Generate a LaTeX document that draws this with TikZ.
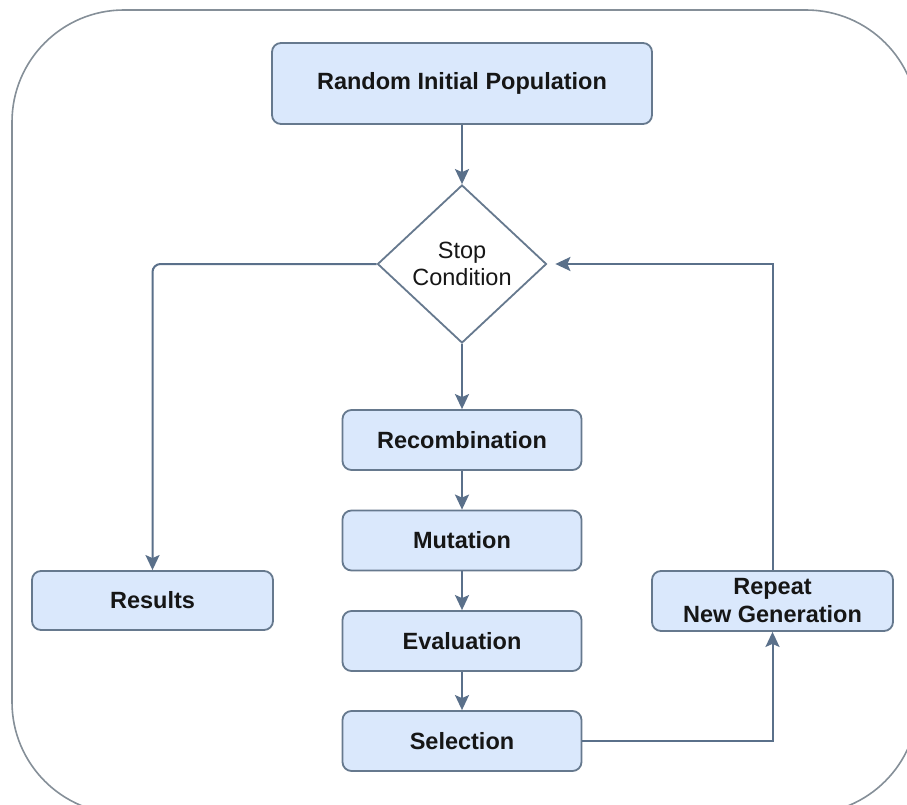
\documentclass[tikz,border=0pt]{standalone}
\usepackage{fontspec}
\setmainfont{Liberation Sans}
\usetikzlibrary{shapes.geometric,arrows.meta}
\definecolor{boxfill}{HTML}{DAE8FC}
\definecolor{boxline}{HTML}{66798E}
\definecolor{arrowcol}{HTML}{5A708A}
\definecolor{outerline}{HTML}{858F98}
\definecolor{txt}{HTML}{161616}
\begin{document}
\begin{tikzpicture}[x=1pt,y=-1pt,
  stepbox/.style={draw=boxline,fill=boxfill,line width=1.8pt,rounded corners=9pt,
    minimum width=240pt,minimum height=60pt,inner sep=0pt,align=center,
    font=\fontsize{23.5pt}{28pt}\selectfont\bfseries,text=txt},
  decision/.style={draw=boxline,fill=white,line width=1.8pt,shape=diamond,
    minimum width=169pt,minimum height=158pt,aspect=1.07,inner sep=0pt,align=center,
    font=\fontsize{23.5pt}{27pt}\selectfont,text=txt},
  conn/.style={draw=arrowcol,line width=2pt,-{Stealth[length=15pt,width=14pt,inset=3pt]}},
]
\useasboundingbox (0,0) rectangle (907,805);
\clip (0,0) rectangle (907,805);
\fill[white] (0,0) rectangle (907,805);
\draw[outerline,line width=1.6pt,rounded corners=112pt] (12,10) rectangle (918,814);

\node[stepbox,minimum width=380pt,minimum height=81pt] (rip) at (462,83.5) {Random Initial Population};
\node[decision] (stop) at (462,264) {Stop\\Condition};
\node[stepbox,minimum width=239pt] (rec) at (462,440) {Recombination};
\node[stepbox,minimum width=239pt] (mut) at (462,540.5) {Mutation};
\node[stepbox,minimum width=239pt] (eva) at (462,641) {Evaluation};
\node[stepbox,minimum width=239pt] (sel) at (462,741) {Selection};
\node[stepbox,minimum width=241pt,minimum height=59pt] (res) at (152.5,600.5) {Results};
\node[stepbox,minimum width=241pt,minimum height=60pt] (rep) at (772.5,601) {Repeat\\New Generation};

\draw[conn] (rip.south) -- (stop.north);
\draw[conn,rounded corners=8pt] (stop.west) -| (res.north);
\draw[conn] (stop.south) -- (rec.north);
\draw[conn] (rec.south) -- (mut.north);
\draw[conn] (mut.south) -- (eva.north);
\draw[conn] (eva.south) -- (sel.north);
\draw[conn] (sel.east) -| (rep.south);
\draw[conn,shorten >=8pt] (rep.north) |- (stop.east);
\end{tikzpicture}
\end{document}
